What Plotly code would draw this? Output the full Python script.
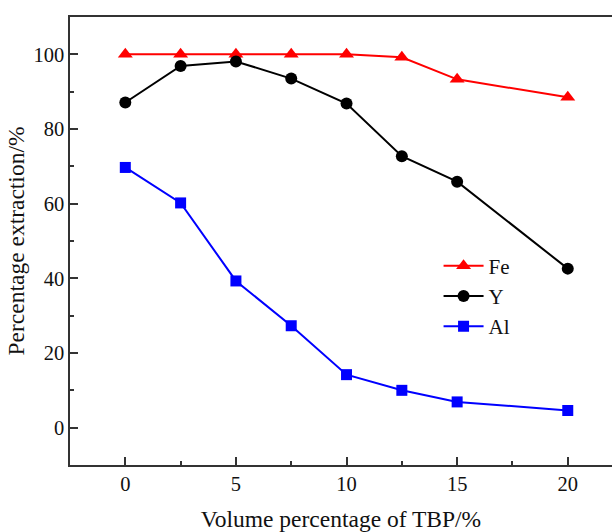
import plotly.graph_objects as go

x_vals = [0, 2.5, 5, 7.5, 10, 12.5, 15, 20]
fe_vals = [100, 100, 100, 100, 100, 99.2, 93.3, 88.5]
y_vals = [87.1, 96.9, 98.1, 93.5, 86.8, 72.7, 65.9, 42.6]
al_vals = [69.7, 60.2, 39.3, 27.3, 14.2, 10.0, 6.9, 4.6]
x_ticks = [0, 5, 10, 15, 20]
y_ticks = [0, 20, 40, 60, 80, 100]

FONT = "Liberation Serif"

fig = go.Figure()
fig.add_trace(go.Scatter(x=x_vals, y=fe_vals, name="Fe", mode="lines+markers",
                         line=dict(color="#FF0000", width=2),
                         marker=dict(symbol="triangle-up", size=13, color="#FF0000")))
fig.add_trace(go.Scatter(x=x_vals, y=y_vals, name="Y", mode="lines+markers",
                         line=dict(color="#000000", width=2),
                         marker=dict(symbol="circle", size=12, color="#000000")))
fig.add_trace(go.Scatter(x=x_vals, y=al_vals, name="Al", mode="lines+markers",
                         line=dict(color="#0000FF", width=2),
                         marker=dict(symbol="square", size=11, color="#0000FF")))

fig.update_layout(
    width=612, height=532,
    margin=dict(l=70, r=0, t=17, b=65),
    paper_bgcolor="white", plot_bgcolor="white",
    font=dict(family=FONT, color="#111111"),
    showlegend=True,
    legend=dict(x=0.68, y=0.49, xanchor="left", yanchor="top",
                font=dict(family=FONT, size=21, color="#111111"),
                bgcolor="rgba(0,0,0,0)", itemwidth=40, tracegroupgap=0),
    xaxis=dict(range=[-2.5, 22.0], tickvals=x_ticks, ticks="inside", ticklen=8, tickwidth=1.5,
               tickcolor="#333333",
               showline=True, linecolor="#333333", linewidth=1.5, mirror=True,
               showgrid=False, zeroline=False,
               tickfont=dict(family=FONT, size=20.5, color="#111111"),
               minor=dict(ticks="inside", ticklen=4, dtick=2.5, tick0=0, tickcolor="#333333", tickwidth=1.5, showgrid=False),
               title=dict(text="Volume percentage of TBP/%", font=dict(family=FONT, size=23.5, color="#111111"), standoff=20)),
    yaxis=dict(range=[-10, 110], tickvals=y_ticks, ticks="inside", ticklen=8, tickwidth=1.5,
               tickcolor="#333333",
               showline=True, linecolor="#333333", linewidth=1.5, mirror=False,
               showgrid=False, zeroline=False,
               tickfont=dict(family=FONT, size=20.5, color="#111111"),
               minor=dict(ticks="inside", ticklen=4, dtick=10, tick0=0, tickcolor="#333333", tickwidth=1.5, showgrid=False),
               title=dict(text="Percentage extraction/%", font=dict(family=FONT, size=23.5, color="#111111"), standoff=2)),
)

fig.write_html("out.html")
